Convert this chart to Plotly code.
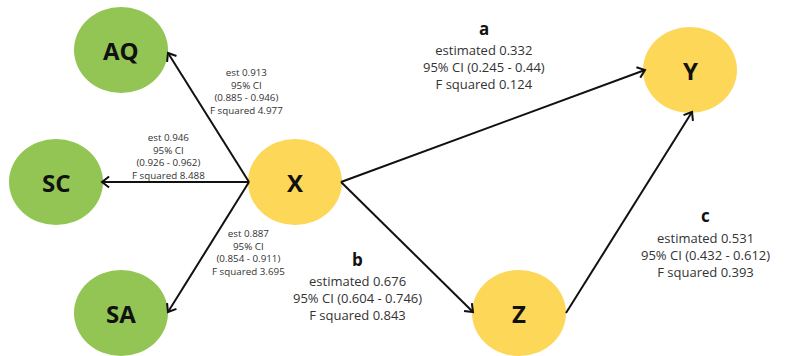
import math
import plotly.graph_objects as go

# ---- model data ----------------------------------------------------------
node_names = ["AQ", "SC", "SA", "X", "Y", "Z"]
node_kind = ["indicator", "indicator", "indicator", "construct", "construct", "construct"]

path_source = ["X", "X", "X", "X", "X", "Z"]
path_target = ["AQ", "SC", "SA", "Y", "Z", "Y"]
path_letter = ["", "", "", "a", "b", "c"]
path_est = [0.913, 0.946, 0.887, 0.332, 0.676, 0.531]
ci_low = [0.885, 0.926, 0.854, 0.245, 0.604, 0.432]
ci_high = [0.946, 0.962, 0.911, 0.44, 0.746, 0.612]
f_squared = [4.977, 8.488, 3.695, 0.124, 0.843, 0.393]

# ---- diagram layout (pixel space, y downwards) ---------------------------
W, H = 788, 356
node_pos = {"AQ": (121, 50), "SC": (56, 182), "SA": (121, 313),
            "X": (295, 182), "Y": (690, 70), "Z": (519, 313)}
RX, RY = 47, 43
fill = {"indicator": "#92c553", "construct": "#fdd757"}

# arrow start / tip points on the ellipse rims
edge_ends = [((249, 182), (168, 53)),
             ((249, 182), (102, 182)),
             ((249, 182), (168, 312)),
             ((341, 182), (645, 70)),
             ((341, 182), (473, 312)),
             ((566, 313), (692, 112))]

# centre of each path's statistics block, and of its letter
label_center = [(246, 91), (168, 156), (248, 252),
                (484, 67), (357, 298), (705, 255)]
letter_y = [None, None, None, 28, 259, 215]

fig = go.Figure()

# nodes
shapes = []
for name, kind in zip(node_names, node_kind):
    cx, cy = node_pos[name]
    shapes.append(dict(type="circle", xref="x", yref="y",
                       x0=cx - RX, x1=cx + RX, y0=cy - RY, y1=cy + RY,
                       fillcolor=fill[kind], line=dict(width=0), layer="below"))

# arrows: shaft + open chevron head
xs, ys = [], []
head_len, head_ang = 9, math.radians(38)
for (x0, y0), (x1, y1) in edge_ends:
    xs += [x0, x1, None]
    ys += [y0, y1, None]
    ang = math.atan2(y1 - y0, x1 - x0)
    for s in (1, -1):
        a = ang + math.pi + s * head_ang
        xs += [x1 + head_len * math.cos(a), x1]
        ys += [y1 + head_len * math.sin(a), y1]
    xs.append(None)
    ys.append(None)
fig.add_trace(go.Scatter(x=xs, y=ys, mode="lines", hoverinfo="skip",
                         line=dict(color="#111111", width=2), showlegend=False))

annotations = []
font_family = "Open Sans, Noto Sans, sans-serif"

# node captions
for name in node_names:
    cx, cy = node_pos[name]
    annotations.append(dict(x=cx, y=cy, text=f"<b>{name}</b>", showarrow=False,
                            font=dict(family=font_family, size=24, color="#111111"),
                            xanchor="center", yanchor="middle"))


def fmt(v):
    return f"{v:g}"


# path statistics
for i in range(len(path_source)):
    cx, cy = label_center[i]
    if path_letter[i]:
        annotations.append(dict(x=cx, y=letter_y[i], text=f"<b>{path_letter[i]}</b>",
                                showarrow=False,
                                font=dict(family=font_family, size=17, color="#111111"),
                                xanchor="center", yanchor="middle"))
        lines = [f"estimated {fmt(path_est[i])}",
                 f"95% CI ({fmt(ci_low[i])} - {fmt(ci_high[i])})",
                 f"F squared {fmt(f_squared[i])}"]
        size = 13
    else:
        lines = [f"est {fmt(path_est[i])}", "95% CI",
                 f"({fmt(ci_low[i])} - {fmt(ci_high[i])})",
                 f"F squared {fmt(f_squared[i])}"]
        size = 9.8
    annotations.append(dict(x=cx, y=cy, text="<br>".join(lines), showarrow=False,
                            align="center", borderpad=0,
                            font=dict(family=font_family, size=size, color="#333333"),
                            xanchor="center", yanchor="middle"))

fig.update_layout(
    width=W, height=H,
    margin=dict(l=0, r=0, t=0, b=0),
    paper_bgcolor="white", plot_bgcolor="white",
    xaxis=dict(range=[0, W], visible=False, fixedrange=True),
    yaxis=dict(range=[H, 0], visible=False, fixedrange=True),
    shapes=shapes, annotations=annotations, showlegend=False,
)

fig.write_html("out.html")
